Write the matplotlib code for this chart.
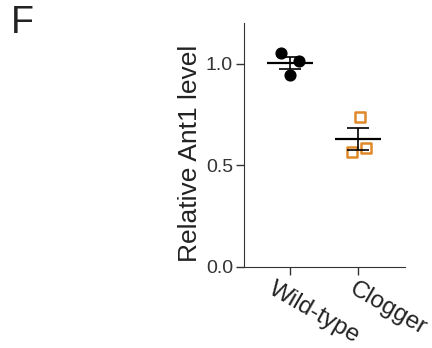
import numpy as np
import matplotlib
matplotlib.use("Agg")
import matplotlib.pyplot as plt
from matplotlib.transforms import ScaledTranslation

plt.rcParams['font.family'] = ['Liberation Sans', 'DejaVu Sans']

groups = ['Wild-type', 'Clogger']
wild_type = [1.051, 1.015, 0.944]
clogger = [0.735, 0.565, 0.586]
jitter = [-0.14, 0.13, -0.01]
clogger_jitter = [0.02, -0.09, 0.12]

fig = plt.figure(figsize=(4.32, 3.48), dpi=100)
ax = fig.add_axes([0.565, 0.234, 0.3725, 0.70])

# points
ax.scatter(np.array(jitter) + 0, wild_type, s=60, color='black', zorder=3)
ax.scatter(np.array(clogger_jitter) + 1, clogger, s=50, marker='s',
           facecolor='white', edgecolor='#E0892A', linewidth=1.8, zorder=3)

# mean +/- SEM
for i, vals in enumerate([wild_type, clogger]):
    v = np.array(vals)
    m = v.mean()
    sem = v.std(ddof=1) / np.sqrt(len(v))
    ax.hlines(m, i - 0.34, i + 0.34, color='black', linewidth=1.6, zorder=4)
    ax.errorbar(i, m, yerr=sem, color='black', capsize=8, linewidth=1.2,
                capthick=1.2, zorder=4)

ax.set_xlim(-0.68, 1.69)
ax.set_ylim(0, 1.2)
ax.set_yticks([0.0, 0.5, 1.0])
ax.set_yticklabels(['0.0', '0.5', '1.0'], fontsize=14, color='#222222')
ax.set_xticks([0, 1])
ax.set_xticklabels([])

# rotated group labels, nudged left of their ticks
for i, (name, dx) in enumerate(zip(groups, [-14, -1])):
    tr = ax.get_xaxis_transform() + ScaledTranslation(dx / 100, -0.11,
                                                      fig.dpi_scale_trans)
    ax.text(i, 0, name, transform=tr, fontsize=17.5, rotation=-30,
            ha='left', va='top', rotation_mode='anchor', color='#222222')

ax.set_ylabel('Relative Ant1 level', fontsize=19, labelpad=2.5, color='#222222')
ax.yaxis.label.set_y(0.465)
ax.spines['top'].set_visible(False)
ax.spines['right'].set_visible(False)
ax.tick_params(direction='out', length=6, width=1, colors='#333333', pad=2)
for s in ['left', 'bottom']:
    ax.spines[s].set_color('#333333')

fig.text(0.025, 0.905, 'F', fontsize=27, color='#222222')

plt.savefig('out.png', dpi=100)
